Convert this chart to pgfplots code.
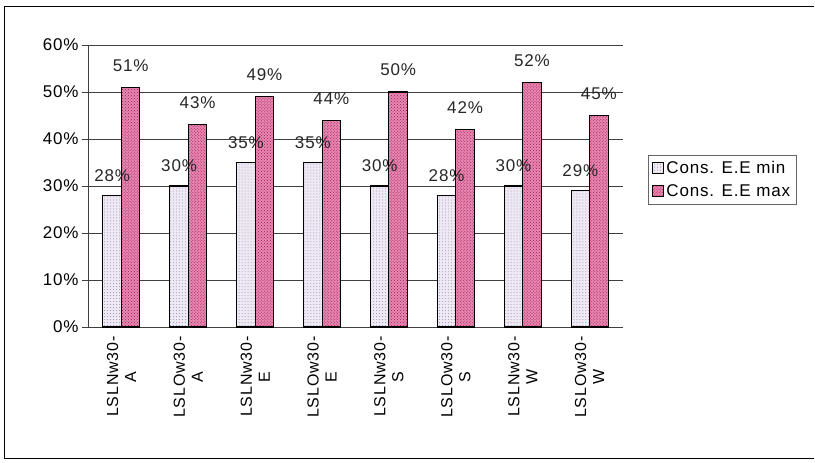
\documentclass[border=0pt]{standalone}
\usepackage{pgfplots}
\pgfplotsset{compat=1.18}
\usepackage{fontspec}
\setmainfont[LetterSpace=5]{Liberation Sans}
\usetikzlibrary{patterns}
\definecolor{minfill}{HTML}{EEE9F4}
\definecolor{maxfill}{HTML}{E886B2}
\definecolor{mindot}{HTML}{9890A4}
\definecolor{maxdot}{HTML}{A01850}
\begin{document}
\begin{tikzpicture}
\path[use as bounding box] (-88bp,-136bp) rectangle (727bp,327bp);
\draw[black,line width=0.8pt] (726bp,-131bp) -- (-84bp,-131bp) -- (-84bp,321bp) -- (726bp,321bp);
\begin{axis}[
  scale only axis,
  width=535bp, height=282bp,
  at={(0,0)}, anchor=south west,
  ybar=0pt, bar width=18.5bp,
  ymin=0, ymax=0.6,
  ytick={0,0.1,0.2,0.3,0.4,0.5,0.6},
  yticklabels={0\%,10\%,20\%,30\%,40\%,50\%,60\%},
  xmin=-0.5, xmax=7.5,
  xtick={0,...,7},
  xticklabels={{LSLNw30-\\A},{LSLOw30-\\A},{LSLNw30-\\E},{LSLOw30-\\E},{LSLNw30-\\S},{LSLOw30-\\S},{LSLNw30-\\W},{LSLOw30-\\W}},
  x tick label style={rotate=90, anchor=east, align=center, font=\fontsize{16bp}{18bp}\selectfont},
  y tick label style={font=\fontsize{17bp}{19bp}\selectfont},
  /pgf/number format/assume math mode=true,
  extra x ticks={0.5,1.5,...,6.5,7.5},
  extra x tick labels={},
  extra x tick style={major tick length=7bp, tick style={black}, tick pos=left},
  major x tick style={draw=none},
  axis x line*=bottom, axis y line*=left,
  axis line style={black!75, line width=0.7pt},
  ymajorgrids, grid style={black!75, line width=0.6pt},
  y tick style={black!75, line width=0.6pt},
  tick align=outside, major tick length=6bp,
  xtick pos=bottom, ytick pos=left,
  clip=false,
  legend style={at={(1.047,0.61)}, anchor=north west, draw=black!60, font=\fontsize{17bp}{19bp}\selectfont, row sep=6bp, inner sep=4bp, cells={anchor=west}},
  legend image code/.code={\draw[#1] (0bp,-5bp) rectangle (11bp,6bp);},
  nodes near coords={\pgfmathprintnumber[fixed,precision=0,assume math mode=true]{\pgfplotspointmeta}\%},
  point meta={y*100},
  every node near coord/.append style={font=\fontsize{17bp}{19bp}\selectfont, black!85},
]
\addplot[draw=black, line width=1.1pt, preaction={fill=minfill}, pattern=dots, pattern color=mindot, every node near coord/.append style={yshift=10bp}]
 coordinates {(0,0.28) (1,0.30) (2,0.35) (3,0.35) (4,0.30) (5,0.28) (6,0.30) (7,0.29)};
\addplot[draw=black, line width=1.1pt, preaction={fill=maxfill}, pattern=crosshatch dots, pattern color=maxdot, every node near coord/.append style={yshift=12bp}]
 coordinates {(0,0.51) (1,0.43) (2,0.49) (3,0.44) (4,0.50) (5,0.42) (6,0.52) (7,0.45)};
\legend{Cons. E.E min, Cons. E.E max}
\end{axis}
\end{tikzpicture}
\end{document}
